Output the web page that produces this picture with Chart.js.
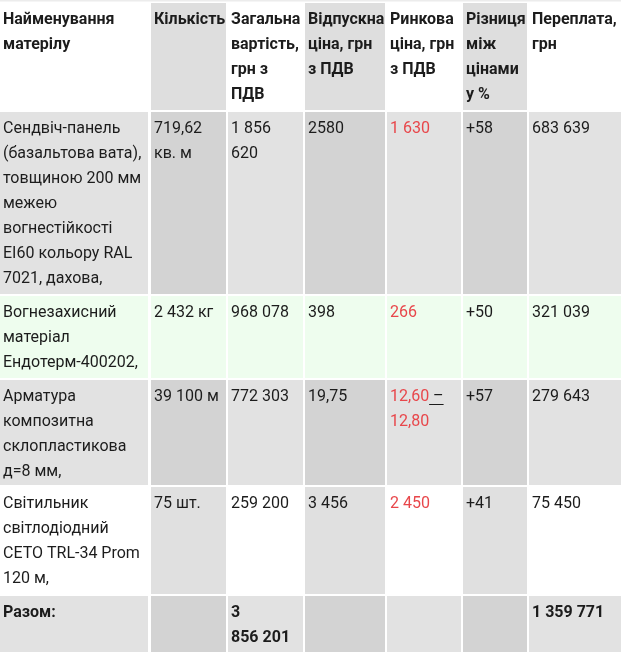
<!DOCTYPE html>
<html>
<head>
<meta charset="utf-8">
<script src="https://cdn.jsdelivr.net/npm/chart.js@4.4.0/dist/chart.umd.min.js"></script>
<style>
  html, body { margin: 0; padding: 0; background: #fff; }
  #wrap { width: 621px; height: 657px; }
</style>
</head>
<body>
<div id="wrap"><canvas id="tbl"></canvas></div>
<script>
// ---- дані таблиці ----
const headers = ['Найменування\nматерілу', 'Кількість', 'Загальна\nвартість,\nгрн з\nПДВ', 'Відпускна\nціна, грн\nз ПДВ', 'Ринкова\nціна, грн\nз ПДВ', 'Різниця\nміж\nцінами\nу %', 'Переплата,\nгрн'];
const materials = ['Сендвіч-панель\n(базальтова вата),\nтовщиною 200 мм\nмежею\nвогнестійкості\nEI60 кольору RAL\n7021, дахова,', 'Вогнезахисний\nматеріал\nЕндотерм-400202,', 'Арматура\nкомпозитна\nсклопластикова\nд=8 мм,', 'Світильник\nсвітлодіодний\nCETO TRL-34 Prom\n120 м,', 'Разом:'];
const quantities = ['719,62\nкв. м', '2 432 кг', '39 100 м', '75 шт.', ''];
const totalCost = ['1 856\n620', '968 078', '772 303', '259 200', '3\n856 201'];
const salePrice = ['2580', '398', '19,75', '3 456', ''];
const marketPrice = ['1 630', '266', '12,60 –\n12,80', '2 450', ''];
const priceDiff = ['+58', '+50', '+57', '+41', ''];
const overpay = ['683 639', '321 039', '279 643', '75 450', '1 359 771'];

// ---- розмітка ----
const colLeft = [0, 151, 228, 305, 387, 463, 529];
const colRight = [148, 226, 303, 385, 461, 527, 621];
const rowTop = [3, 112, 296, 380, 487, 596];
const rowBottom = [110, 294, 378, 485, 594, 652];
const rowFill = [
  ['#ffffff', '#dedede'],
  ['#e2e2e2', '#d3d3d3'],
  ['#eefdee', '#eefdee'],
  ['#e2e2e2', '#d3d3d3'],
  ['#ffffff', '#e0e0e0'],
  ['#e2e2e2', '#d3d3d3']
];
const textColor = '#1c1c1c';
const redColor = '#e8474b';

function buildRows() {
  const rows = [headers];
  for (let i = 0; i < materials.length; i++) {
    rows.push([materials[i], quantities[i], totalCost[i], salePrice[i], marketPrice[i], priceDiff[i], overpay[i]]);
  }
  return rows;
}

const tablePlugin = {
  id: 'tableCells',
  beforeDatasetsDraw(chart) {
    const ctx = chart.ctx;
    const xs = chart.scales.x, ys = chart.scales.y;
    const rows = buildRows();
    ctx.save();
    // верхня лінія
    ctx.fillStyle = '#ececec';
    ctx.fillRect(xs.getPixelForValue(0), ys.getPixelForValue(0), xs.getPixelForValue(621), 1.5);
    rows.forEach((row, r) => {
      const y0 = ys.getPixelForValue(rowTop[r]);
      const y1 = ys.getPixelForValue(rowBottom[r]);
      const bold = r === 0 || r === rows.length - 1;
      row.forEach((txt, c) => {
        const x0 = xs.getPixelForValue(colLeft[c]);
        const x1 = xs.getPixelForValue(colRight[c]);
        ctx.fillStyle = rowFill[r][c % 2];
        ctx.fillRect(x0, y0, x1 - x0, y1 - y0);
        if (!txt) return;
        ctx.font = (bold ? 'bold ' : '') + '16px Roboto, "Noto Sans", sans-serif';
        ctx.textBaseline = 'alphabetic';
        const isRed = r > 0 && c === 4;
        txt.split('\n').forEach((line, i) => {
          const tx = x0 + 3;
          const ty = y0 + 21 + i * 25;
          if (isRed && line.endsWith(' –')) {
            const main = line.slice(0, -2);
            ctx.fillStyle = redColor;
            ctx.fillText(main, tx, ty);
            const w = ctx.measureText(main).width;
            const tail = ' –';
            const tw = ctx.measureText(tail).width;
            ctx.fillStyle = textColor;
            ctx.fillText(tail, tx + w, ty);
            ctx.fillRect(tx + w, ty + 3, tw, 1);
          } else {
            ctx.fillStyle = isRed ? redColor : textColor;
            ctx.fillText(line, tx, ty);
          }
        });
      });
    });
    ctx.restore();
  }
};

new Chart(document.getElementById('tbl'), {
  type: 'scatter',
  data: { datasets: [{ data: [] }] },
  options: {
    responsive: true,
    maintainAspectRatio: false,
    animation: false,
    events: [],
    layout: { padding: 0 },
    plugins: { legend: { display: false }, tooltip: { enabled: false } },
    scales: {
      x: { type: 'linear', min: 0, max: 621, display: false },
      y: { type: 'linear', min: 0, max: 657, reverse: true, display: false }
    }
  },
  plugins: [tablePlugin]
});
</script>
</body>
</html>
